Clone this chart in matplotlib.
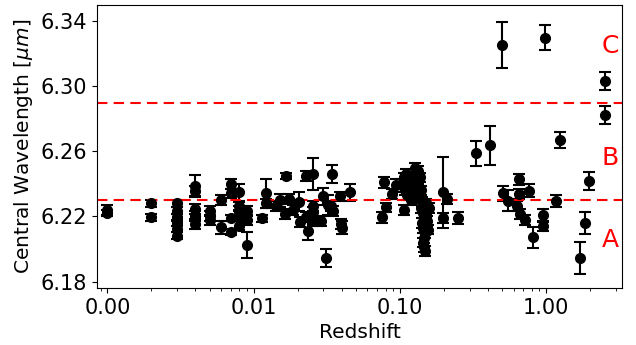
import matplotlib
matplotlib.use("Agg")
import matplotlib.pyplot as plt
from matplotlib.ticker import FormatStrFormatter

# redshift, central wavelength [um], error
redshift = [
    0.001, 0.001,
    0.002, 0.002,
    0.003, 0.003, 0.003, 0.003, 0.003, 0.003,
    0.004, 0.004, 0.004, 0.004, 0.004,
    0.005, 0.005, 0.005,
    0.006, 0.006,
    0.007, 0.007, 0.007, 0.007,
    0.008, 0.008, 0.008, 0.008, 0.008,
    0.009, 0.009, 0.009,
    0.0114, 0.0122, 0.0122,
    0.0143, 0.0152, 0.0163, 0.0166, 0.0175, 0.0186, 0.0204, 0.0207,
    0.0227, 0.0229, 0.0236, 0.0255, 0.0255, 0.0255, 0.0255, 0.0291,
    0.0298, 0.0311, 0.0323, 0.0339, 0.0345, 0.0349, 0.0388, 0.0394,
    0.0400, 0.0459,
    0.075, 0.0777, 0.0802, 0.0877, 0.0939, 0.1065,
    0.104, 0.107, 0.110, 0.113, 0.115, 0.118, 0.108, 0.112, 0.120,
    0.126, 0.128, 0.130, 0.132, 0.134, 0.127, 0.131, 0.136, 0.139,
    0.141, 0.138, 0.122,
    0.140, 0.143, 0.146, 0.142, 0.145, 0.149, 0.147, 0.144, 0.146,
    0.148, 0.151, 0.153, 0.150, 0.155, 0.158,
    0.196, 0.209, 0.196, 0.251, 0.332, 0.413, 0.497, 0.505, 0.552,
    0.636, 0.653, 0.653, 0.664, 0.718, 0.765, 0.819, 0.959, 0.959,
    0.985, 1.17, 1.247, 1.71, 1.83, 1.95, 2.51, 2.51,
]
wavelength = [
    6.224, 6.222,
    6.228, 6.2195,
    6.228, 6.2236, 6.2195, 6.216, 6.2124, 6.2083,
    6.2388, 6.2357, 6.2246, 6.2205, 6.2154,
    6.2235, 6.2205, 6.218,
    6.2303, 6.2134,
    6.240, 6.2342, 6.2191, 6.2104,
    6.2348, 6.2262, 6.2235, 6.2209, 6.2144,
    6.2235, 6.218, 6.2022,
    6.2189, 6.2342, 6.228,
    6.2266, 6.230, 6.2215, 6.2449, 6.2307, 6.224, 6.2291, 6.2165,
    6.2449, 6.2195, 6.2113, 6.246, 6.2266, 6.2226, 6.2174, 6.2174,
    6.2323, 6.1945, 6.227, 6.2266, 6.246, 6.2235, 6.2323, 6.2154,
    6.213, 6.2348,
    6.2195, 6.2409, 6.2256, 6.2337, 6.2392, 6.2242,
    6.240, 6.244, 6.246, 6.242, 6.238, 6.236, 6.236, 6.233, 6.230,
    6.250, 6.246, 6.243, 6.248, 6.240, 6.237, 6.234, 6.232, 6.236,
    6.229, 6.244, 6.241,
    6.225, 6.222, 6.219, 6.216, 6.213, 6.210, 6.207, 6.204, 6.201,
    6.199, 6.222, 6.217, 6.228, 6.212, 6.225,
    6.2348, 6.2307, 6.2189, 6.2191, 6.2588, 6.2637, 6.3253, 6.2342, 6.2297,
    6.2266, 6.2429, 6.2337, 6.2215, 6.218, 6.2357, 6.2073, 6.2209, 6.214,
    6.330, 6.2297, 6.2669, 6.1945, 6.216, 6.2418, 6.3033, 6.2826,
]
error = [
    0.003, 0.002,
    0.002, 0.002,
    0.002, 0.002, 0.002, 0.002, 0.002, 0.002,
    0.007, 0.003, 0.003, 0.003, 0.003,
    0.003, 0.003, 0.003,
    0.003, 0.004,
    0.003, 0.003, 0.002, 0.002,
    0.005, 0.003, 0.003, 0.003, 0.003,
    0.003, 0.003, 0.008,
    0.002, 0.009, 0.003,
    0.003, 0.004, 0.003, 0.002, 0.003, 0.003, 0.006, 0.003,
    0.003, 0.003, 0.0055, 0.010, 0.003, 0.003, 0.003, 0.003,
    0.005, 0.0055, 0.006, 0.003, 0.0055, 0.003, 0.003, 0.003,
    0.004, 0.005,
    0.0035, 0.0035, 0.003, 0.003, 0.004, 0.003,
    0.003, 0.003, 0.003, 0.003, 0.003, 0.003, 0.003, 0.003, 0.003,
    0.003, 0.003, 0.003, 0.003, 0.003, 0.003, 0.003, 0.003, 0.003,
    0.003, 0.003, 0.003,
    0.003, 0.003, 0.003, 0.003, 0.003, 0.003, 0.003, 0.003, 0.003,
    0.003, 0.003, 0.003, 0.003, 0.003, 0.003,
    0.022, 0.003, 0.003, 0.0035, 0.0075, 0.012, 0.014, 0.0045, 0.0065,
    0.003, 0.0035, 0.003, 0.003, 0.003, 0.004, 0.0065, 0.004, 0.003,
    0.0075, 0.0038, 0.005, 0.010, 0.0065, 0.0055, 0.0055, 0.0055,
]

boundaries = [6.23, 6.29]
region_labels = ["A", "B", "C"]
region_label_y = [0.17, 0.459, 0.855]
yticks = [6.18, 6.22, 6.26, 6.30, 6.34]
xticks = [0.001, 0.01, 0.1, 1.0]


def main():
    fig = plt.figure(figsize=(6.36, 3.45), dpi=100)
    ax = fig.add_axes([0.1525, 0.165, 0.8255, 0.8205])

    ax.errorbar(redshift, wavelength, yerr=error, fmt='o', color='k',
                ms=7, capsize=4, elinewidth=1.5, capthick=1.5)
    for b in boundaries:
        ax.axhline(b, color='r', ls='--', lw=1.5, dashes=(5, 3))

    for lab, yy in zip(region_labels, region_label_y):
        ax.text(0.977, yy, lab, color='r', fontsize=18,
                ha='center', va='center', transform=ax.transAxes)

    ax.set_xscale('log')
    ax.set_xlim(0.00085, 3.3)
    ax.set_ylim(6.176, 6.35)
    ax.set_xticks(xticks)
    ax.xaxis.set_major_formatter(FormatStrFormatter('%.2f'))
    ax.set_yticks(yticks)
    ax.yaxis.set_major_formatter(FormatStrFormatter('%.2f'))
    ax.tick_params(labelsize=15)
    ax.set_xlabel('Redshift', fontsize=14.5)
    ax.set_ylabel(r'Central Wavelength [$\mu m$]', fontsize=14.5)

    fig.savefig('out.png', dpi=100)
    return 0


main()
